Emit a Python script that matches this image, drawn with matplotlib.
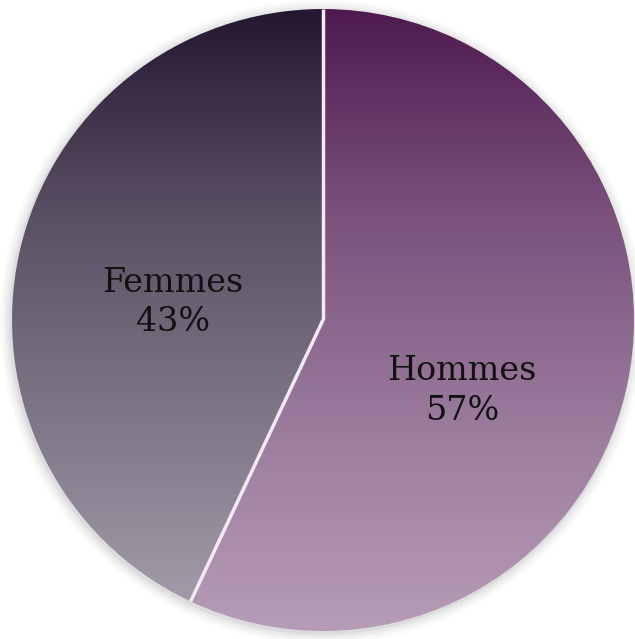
import numpy as np
import matplotlib.pyplot as plt
from matplotlib.colors import LinearSegmentedColormap

# data
labels = ['Hommes', 'Femmes']
values = [57, 43]

# vertical gradients (bottom -> top) for each slice
grad_hommes = ['#b69cb6', '#9a7b9c', '#7a527c', '#4e1a50']
grad_femmes = ['#a7a0ae', '#807888', '#5a5064', '#251632']

fig = plt.figure(figsize=(6.35, 6.39), dpi=100)
ax = fig.add_axes([0, 0, 1, 1])

wedges, texts = ax.pie(values, startangle=90, counterclock=False, radius=1,
                       wedgeprops=dict(facecolor='none', edgecolor='none'))

# soft shadow around the pie
for r, a in [(1.035, 0.04), (1.025, 0.06), (1.015, 0.08), (1.006, 0.12)]:
    ax.add_patch(plt.Circle((-0.004, -0.006), r, color='#808080', alpha=a, zorder=0, lw=0))

ys = np.linspace(0, 1, 256).reshape(-1, 1)
for w, cols in zip(wedges, [grad_hommes, grad_femmes]):
    cmap = LinearSegmentedColormap.from_list('g', cols)
    im = ax.imshow(ys, cmap=cmap, origin='lower', extent=[-1, 1, -1, 1],
                   aspect='auto', zorder=1, interpolation='bilinear')
    im.set_clip_path(w)

# white dividers between slices
for w in wedges:
    t = np.deg2rad(w.theta1)
    ax.plot([0, np.cos(t)], [0, np.sin(t)], color='#f4e8f4', lw=2.5,
            solid_capstyle='butt', zorder=2)

ax.text(0.447, -0.228, 'Hommes\n57%', ha='center', va='center', fontsize=24,
        family='DejaVu Serif', linespacing=1.3, zorder=3, color='#111111')
ax.text(-0.482, 0.056, 'Femmes\n43%', ha='center', va='center', fontsize=24,
        family='DejaVu Serif', linespacing=1.3, zorder=3, color='#111111')

ax.set_xlim(-1.0386, 1.0032)
ax.set_ylim(-1.0257, 1.029)
ax.set_aspect('equal')
ax.axis('off')

fig.savefig('out.png', dpi=100)
